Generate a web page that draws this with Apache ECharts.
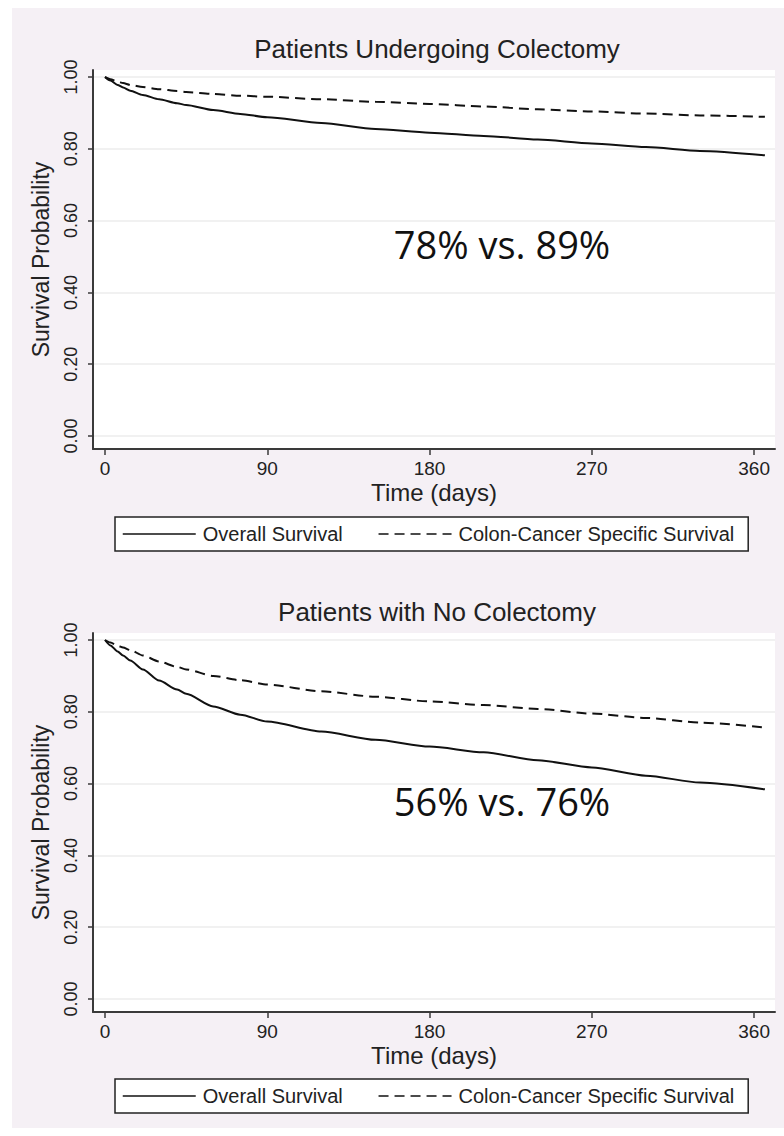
<!DOCTYPE html>
<html>
<head>
<meta charset="utf-8">
<script src="https://cdn.jsdelivr.net/npm/echarts@6/dist/echarts.min.js"></script>
<style>
html,body{margin:0;padding:0;background:#fff;}
#chart{width:784px;height:1136px;}
</style>
</head>
<body>
<div id="chart"></div>
<script>
// ---- data ----
const days = [0, 3, 7, 10, 14, 21, 30, 40, 45, 60, 75, 90, 120, 150, 180, 210, 240, 270, 300, 330, 366];
const colectomyOverall   = [1.000, 0.990, 0.978, 0.971, 0.962, 0.950, 0.938, 0.927, 0.922, 0.908, 0.897, 0.888, 0.872, 0.855, 0.845, 0.836, 0.826, 0.815, 0.805, 0.794, 0.782];
const colectomyCancer    = [1.000, 0.994, 0.987, 0.983, 0.978, 0.972, 0.966, 0.961, 0.958, 0.953, 0.948, 0.945, 0.938, 0.931, 0.925, 0.918, 0.910, 0.904, 0.898, 0.893, 0.889];
const noColectomyOverall = [1.000, 0.985, 0.968, 0.957, 0.943, 0.918, 0.887, 0.862, 0.850, 0.815, 0.792, 0.773, 0.745, 0.722, 0.703, 0.687, 0.665, 0.645, 0.622, 0.603, 0.584];
const noColectomyCancer  = [1.000, 0.993, 0.984, 0.979, 0.972, 0.957, 0.940, 0.925, 0.918, 0.900, 0.888, 0.876, 0.857, 0.842, 0.829, 0.819, 0.808, 0.795, 0.783, 0.770, 0.756];
const xTicks = [0, 90, 180, 270, 360];
const yTicks = [0, 0.2, 0.4, 0.6, 0.8, 1.0];
const panelTitles = ['Patients Undergoing Colectomy', 'Patients with No Colectomy'];
const annotations = ['78% vs. 89%', '56% vs. 76%'];
const seriesNames = ['Overall Survival', 'Colon-Cancer Specific Survival'];
const xName = 'Time (days)';
const yName = 'Survival Probability';

// ---- chart ----
const FONT = '"Liberation Sans", Arial, sans-serif';
const pair = (xs, ys) => xs.map((d, i) => [d, ys[i]]);
const panels = [
  { top: 70, overall: colectomyOverall, cancer: colectomyCancer, titleTop: 31, annTop: 220, legendTop: 517 },
  { top: 633, overall: noColectomyOverall, cancer: noColectomyCancer, titleTop: 594, annTop: 777, legendTop: 1079 }
];
const grids = [], xAxes = [], yAxes = [], series = [], titles = [], legends = [];
panels.forEach((p, i) => {
  grids.push({ left: 93, right: 9, top: p.top, height: 379, show: true, backgroundColor: '#ffffff', borderWidth: 0 });
  xAxes.push({
    type: 'value', gridIndex: i, min: -6.66, max: 371.6,
    name: xName, nameLocation: 'middle', nameGap: 31,
    nameTextStyle: { fontFamily: FONT, fontSize: 24, color: '#222' },
    axisLine: { show: true, onZero: false, lineStyle: { color: '#3a3a3a', width: 2 } },
    axisTick: { show: true, length: 6, customValues: xTicks, lineStyle: { color: '#3a3a3a', width: 1.5 } },
    axisLabel: { customValues: xTicks, margin: 10, fontFamily: FONT, fontSize: 19, color: '#222' },
    splitLine: { show: false }
  });
  yAxes.push({
    type: 'value', gridIndex: i, min: -0.0362, max: 1.0195,
    name: yName, nameLocation: 'middle', nameGap: 41,
    nameTextStyle: { fontFamily: FONT, fontSize: 23, color: '#222' },
    axisLine: { show: true, onZero: false, lineStyle: { color: '#3a3a3a', width: 2 } },
    axisTick: { show: true, length: 5, customValues: yTicks, lineStyle: { color: '#3a3a3a', width: 1.5 } },
    axisLabel: { customValues: yTicks, rotate: 90, margin: 13, fontFamily: FONT, fontSize: 18, color: '#222',
      formatter: v => v.toFixed(2) },
    splitLine: { show: true, lineStyle: { color: '#ececec', width: 1.5 } }
  });
  series.push({
    name: seriesNames[0], type: 'line', xAxisIndex: i, yAxisIndex: i, data: pair(days, p.overall),
    symbol: 'none', silent: true, smooth: 0.25, smoothMonotone: 'x',
    lineStyle: { color: '#111', width: 2 }, itemStyle: { color: '#111' }
  });
  series.push({
    name: seriesNames[1], type: 'line', xAxisIndex: i, yAxisIndex: i, data: pair(days, p.cancer),
    symbol: 'none', silent: true, smooth: 0.25, smoothMonotone: 'x',
    lineStyle: { color: '#111', width: 2, type: [10, 6] }, itemStyle: { color: '#111' }
  });
  titles.push({ text: panelTitles[i], left: 432, top: p.titleTop, textAlign: 'center',
    textStyle: { fontFamily: FONT, fontSize: 26, fontWeight: 'normal', color: '#222' } });
  titles.push({ text: annotations[i], left: 497, top: p.annTop, textAlign: 'center',
    textStyle: { fontFamily: '"Open Sans", "Noto Sans", sans-serif', fontSize: 38, fontWeight: 'normal', color: '#111' } });
  legends.push({
    data: seriesNames, left: 115, top: p.legendTop, orient: 'horizontal', selectedMode: false,
    backgroundColor: '#ffffff', borderColor: '#222', borderWidth: 1.5, borderRadius: 0,
    padding: [7, 14, 7, 7], itemGap: 35, itemWidth: 73, itemHeight: 14,
    textStyle: { fontFamily: FONT, fontSize: 20, color: '#222', padding: [0, 0, 0, 2] },
    itemStyle: { opacity: 0, color: 'transparent', borderWidth: 0 },
    lineStyle: { width: 1.5 }
  });
});

const chart = echarts.init(document.getElementById('chart'), null, { renderer: 'svg' });
chart.setOption({
  backgroundColor: '#ffffff',
  animation: false,
  graphic: [{ type: 'rect', z: -10, silent: true, shape: { x: 12, y: 8, width: 772, height: 1120 }, style: { fill: '#f5f0f5' } }],
  title: titles,
  legend: legends,
  grid: grids,
  xAxis: xAxes,
  yAxis: yAxes,
  series: series
});
</script>
</body>
</html>
